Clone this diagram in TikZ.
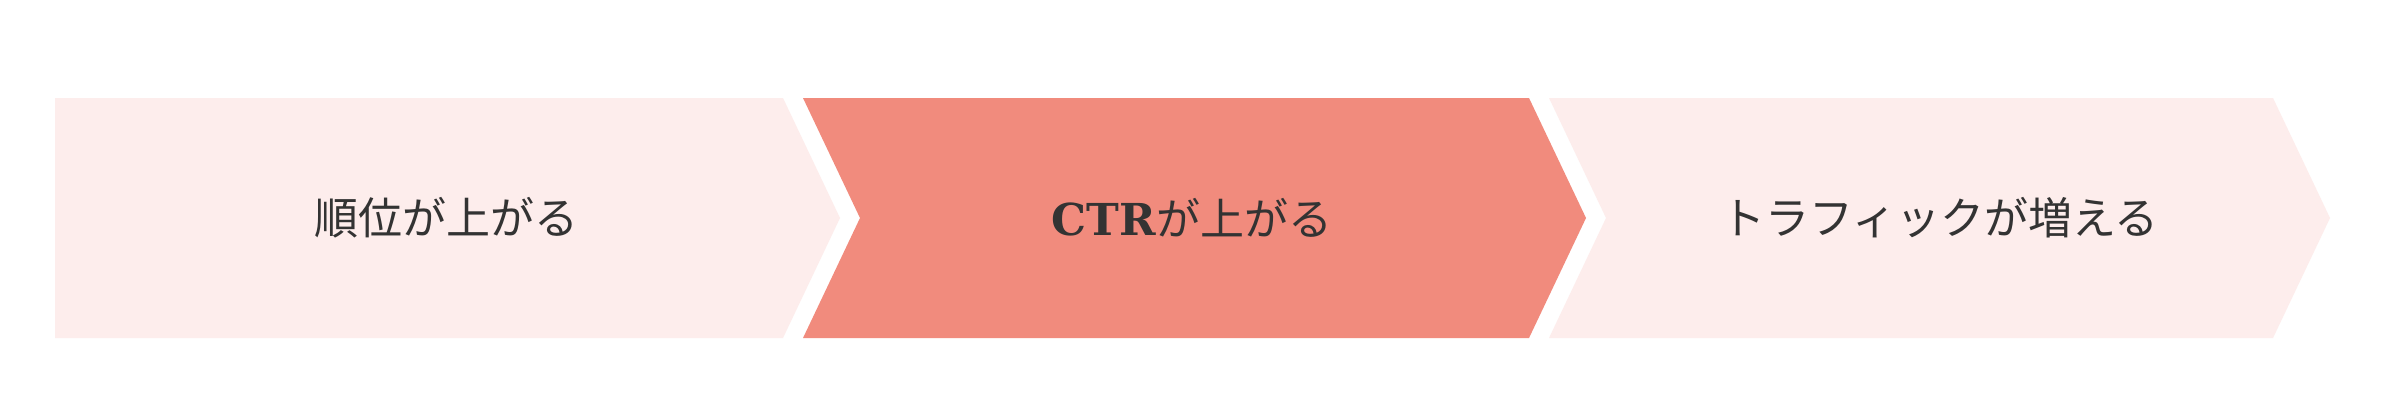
\documentclass[tikz,border=0pt]{standalone}
\usepackage{fontspec}
\newfontfamily\jpfont{Noto Sans CJK JP}
\newfontfamily\slabfont{DejaVu Serif}
\definecolor{lightpink}{HTML}{FDEDEC}
\definecolor{salmon}{HTML}{F18B7D}
\definecolor{textgray}{HTML}{333333}
\tikzset{
  lbl/.style={text=textgray, font=\jpfont\fontsize{44}{48}\selectfont, inner sep=0pt, anchor=center},
}
\begin{document}
\begin{tikzpicture}[x=1pt,y=-1pt]
\useasboundingbox (0,0) rectangle (2400,416);
\fill[white] (0,0) rectangle (2400,416);
% shape 1
\fill[lightpink] (55,98) -- (783,98) -- (840,218) -- (783,338) -- (55,338) -- cycle;
% shape 2
\fill[salmon] (803,98) -- (1529,98) -- (1586,218) -- (1529,338) -- (803,338) -- (860,218) -- cycle;
% shape 3
\fill[lightpink] (1549,98) -- (2273,98) -- (2330,218) -- (2273,338) -- (1549,338) -- (1606,218) -- cycle;
\node[lbl] (t1) at (446,218) {順位が上がる};
\node[lbl] (t2) at (1192,218) {{\slabfont\bfseries CTR}が上がる};
\node[lbl] (t3) at (1940,218) {トラフィックが増える};
\end{tikzpicture}
\end{document}
